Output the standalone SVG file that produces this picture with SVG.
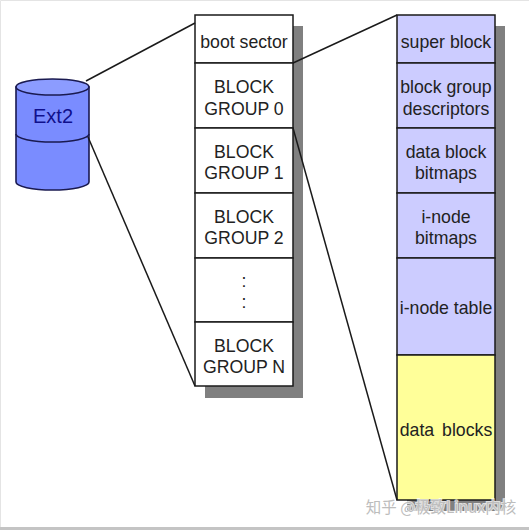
<svg xmlns="http://www.w3.org/2000/svg" width="529" height="530" viewBox="0 0 529 530">
<style>
text{font-family:"Liberation Sans",Arial,sans-serif;font-size:17.7px;fill:#222;text-anchor:middle}
.box{stroke:#1a1a1a;stroke-width:1.5}
.w{fill:#fff}.b{fill:#ccccff}.y{fill:#ffff99}
.sh{fill:#808080}
.cyl{stroke:#1a1a50;stroke-width:1.6}
#connectors line{stroke:#1a1a1a;stroke-width:1.5}
</style>
<rect width="529" height="530" fill="#fff"/>
<path d="M0.5 530V0.5H529" fill="none" stroke="#e4e4e4"/>
<rect x="0" y="527" width="529" height="3" fill="#c4c4c4"/>
<g id="shadows">
<rect class="sh" x="205" y="26" width="98" height="372"/>
<rect class="sh" x="407" y="26" width="98" height="485"/>
</g>
<g id="ext2">
<path class="cyl" fill="#7a8cff" d="M16 87V182A36.5 8 0 0 0 89 182V87Z"/>
<ellipse class="cyl" cx="52.5" cy="87" rx="36.5" ry="8" fill="#8c9cff"/>
<path class="cyl" fill="none" d="M16 134A36.5 8 0 0 0 89 134"/>
<text x="53" y="123" style="font-size:20px;fill:#10108c">Ext2</text>
</g>
<g id="boot-sector"><rect class="box w" x="195" y="15" width="98" height="48"/><text x="244" y="48">boot sector</text></g>
<g id="block-group-0"><rect class="box w" x="195" y="63" width="98" height="65"/><text x="244" y="93">BLOCK</text><text x="244" y="114.500">GROUP 0</text></g>
<g id="block-group-1"><rect class="box w" x="195" y="128" width="98" height="65"/><text x="244" y="158">BLOCK</text><text x="244" y="179">GROUP 1</text></g>
<g id="block-group-2"><rect class="box w" x="195" y="193" width="98" height="65"/><text x="244" y="223">BLOCK</text><text x="244" y="244">GROUP 2</text></g>
<g id="block-group-dots"><rect class="box w" x="195" y="258" width="98" height="64"/><text x="244" y="287">:</text><text x="244" y="308">:</text></g>
<g id="block-group-n"><rect class="box w" x="195" y="322" width="98" height="64"/><text x="244" y="352">BLOCK</text><text x="244" y="373">GROUP N</text></g>
<g id="super-block"><rect class="box b" x="397" y="15" width="98" height="48"/><text x="446" y="48">super block</text></g>
<g id="block-group-descriptors"><rect class="box b" x="397" y="63" width="98" height="65"/><text x="446" y="93">block group</text><text x="446" y="114.500">descriptors</text></g>
<g id="data-block-bitmaps"><rect class="box b" x="397" y="128" width="98" height="65"/><text x="446" y="158">data block</text><text x="446" y="179">bitmaps</text></g>
<g id="inode-bitmaps"><rect class="box b" x="397" y="193" width="98" height="65"/><text x="446" y="223">i-node</text><text x="446" y="244">bitmaps</text></g>
<g id="inode-table"><rect class="box b" x="397" y="258" width="98" height="97"/><text x="446" y="314">i-node table</text></g>
<g id="data-blocks"><rect class="box y" x="397" y="355" width="98" height="145"/><text x="446" y="436" word-spacing="3">data blocks</text></g>
<g id="connectors">
<line x1="86" y1="81" x2="195" y2="23"/>
<line x1="88" y1="137" x2="195" y2="386"/>
<line x1="293" y1="63" x2="397" y2="15"/>
<line x1="293" y1="128" x2="397" y2="500"/>
</g>
<text x="441" y="513" style="font-family:'Noto Sans CJK SC','Liberation Sans',sans-serif;font-size:15.500px;fill:#bdbdbd;stroke:#fff;stroke-width:2;paint-order:stroke;stroke-opacity:.75;text-anchor:middle">知乎 @极致Linux内核</text>
</svg>
